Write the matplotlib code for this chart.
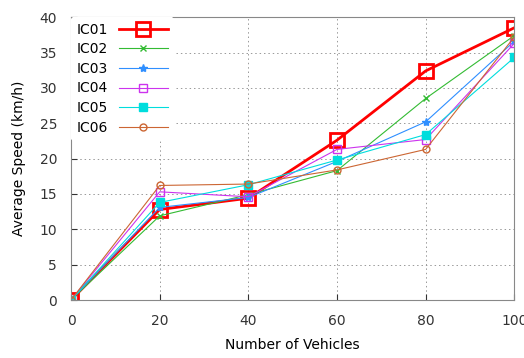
import matplotlib
matplotlib.use("Agg")
import matplotlib.pyplot as plt

vehicles = [0, 20, 40, 60, 80, 100]
ic01 = [0, 12.8, 14.4, 22.6, 32.4, 38.5]
ic02 = [0, 11.9, 14.9, 18.3, 28.5, 37.4]
ic03 = [0, 13.1, 14.5, 19.6, 25.2, 36.6]
ic04 = [0, 15.3, 14.6, 21.3, 22.7, 36.3]
ic05 = [0, 13.8, 16.3, 19.8, 23.4, 34.3]
ic06 = [0, 16.2, 16.4, 18.4, 21.3, 37.2]
labels = ["IC01", "IC02", "IC03", "IC04", "IC05", "IC06"]

series = [ic01, ic02, ic03, ic04, ic05, ic06]
styles = [
    dict(color="#ff0000", marker="s", ms=10, mfc="none", mew=2, lw=2),
    dict(color="#33bb33", marker="x", ms=5, lw=0.8),
    dict(color="#2f8fff", marker="*", ms=6, lw=0.8),
    dict(color="#cc33ee", marker="s", ms=6, mfc="none", lw=0.8),
    dict(color="#00dddd", marker="s", ms=6, lw=0.8),
    dict(color="#cc6633", marker="o", ms=5, mfc="none", lw=0.8),
]

fig = plt.figure(figsize=(5.24, 3.58), dpi=100)
ax = fig.add_axes([0.1355, 0.162, 0.846, 0.79])

for y, lab, st in zip(series, labels, styles):
    ax.plot(vehicles, y, label=lab, **st)

ax.set_xlim(0, 100)
ax.set_ylim(0, 40)
ax.set_xticks(range(0, 101, 20))
ax.set_yticks(range(0, 41, 5))
ax.grid(True, linestyle=(0, (1.5, 3)), color="#999999", lw=0.7)
ax.tick_params(direction="in", length=4, labelsize=10, colors="#333333")
ax.tick_params(axis="x", pad=10)
ax.tick_params(axis="y", pad=10)
for s in ax.spines.values():
    s.set_color("#888888")
ax.set_xlabel("Number of Vehicles", fontsize=10, labelpad=7)
ax.set_ylabel("Average Speed (km/h)", fontsize=10, labelpad=10)

leg = ax.legend(loc="upper left", frameon=True, fontsize=10, handlelength=3.5,
                borderaxespad=0.0, labelspacing=0.4, markerfirst=False)
leg.get_frame().set_edgecolor("white")
leg.get_frame().set_alpha(1)

fig.savefig("out.png", dpi=100)
